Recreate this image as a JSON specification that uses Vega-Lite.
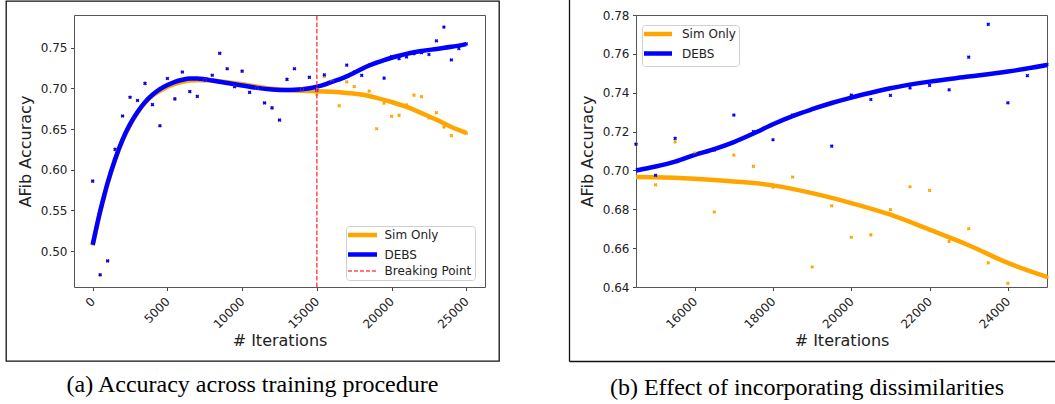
{
  "$schema": "https://vega.github.io/schema/vega-lite/v6.json",
  "padding": {"left": 5, "top": 0, "right": 0, "bottom": 0},
  "background": "white",
  "bounds": "flush",
  "spacing": 70,
  "config": {"view": {"stroke": null}, "font": "DejaVu Sans", "axis": {"grid": false}},
  "resolve": {"scale": {"color": "independent"}, "legend": {"color": "independent"}},
  "datasets": {
    "points": [
      {"iter":0,"acc":0.586,"series":"Sim Only"},{"iter":500,"acc":0.471,"series":"Sim Only"},{"iter":1000,"acc":0.488,"series":"Sim Only"},{"iter":1500,"acc":0.625,"series":"Sim Only"},{"iter":2000,"acc":0.666,"series":"Sim Only"},{"iter":2500,"acc":0.689,"series":"Sim Only"},{"iter":3000,"acc":0.685,"series":"Sim Only"},{"iter":3500,"acc":0.706,"series":"Sim Only"},{"iter":4000,"acc":0.680,"series":"Sim Only"},{"iter":4500,"acc":0.654,"series":"Sim Only"},{"iter":5000,"acc":0.712,"series":"Sim Only"},{"iter":5500,"acc":0.687,"series":"Sim Only"},{"iter":6000,"acc":0.720,"series":"Sim Only"},{"iter":6500,"acc":0.696,"series":"Sim Only"},{"iter":7000,"acc":0.690,"series":"Sim Only"},{"iter":7500,"acc":0.710,"series":"Sim Only"},{"iter":8000,"acc":0.716,"series":"Sim Only"},{"iter":8500,"acc":0.743,"series":"Sim Only"},{"iter":9000,"acc":0.724,"series":"Sim Only"},{"iter":9500,"acc":0.702,"series":"Sim Only"},{"iter":10000,"acc":0.721,"series":"Sim Only"},{"iter":10500,"acc":0.695,"series":"Sim Only"},{"iter":11000,"acc":0.700,"series":"Sim Only"},{"iter":11500,"acc":0.682,"series":"Sim Only"},{"iter":12000,"acc":0.676,"series":"Sim Only"},{"iter":12500,"acc":0.661,"series":"Sim Only"},{"iter":13000,"acc":0.711,"series":"Sim Only"},{"iter":13500,"acc":0.724,"series":"Sim Only"},{"iter":14000,"acc":0.699,"series":"Sim Only"},{"iter":14500,"acc":0.7135,"series":"Sim Only"},{"iter":15000,"acc":0.6926,"series":"Sim Only"},{"iter":15500,"acc":0.7147,"series":"Sim Only"},{"iter":16000,"acc":0.7089,"series":"Sim Only"},{"iter":16500,"acc":0.6786,"series":"Sim Only"},{"iter":17000,"acc":0.7079,"series":"Sim Only"},{"iter":17500,"acc":0.7021,"series":"Sim Only"},{"iter":18000,"acc":0.6914,"series":"Sim Only"},{"iter":18500,"acc":0.6966,"series":"Sim Only"},{"iter":19000,"acc":0.6503,"series":"Sim Only"},{"iter":19500,"acc":0.6818,"series":"Sim Only"},{"iter":20000,"acc":0.6656,"series":"Sim Only"},{"iter":20500,"acc":0.6668,"series":"Sim Only"},{"iter":21000,"acc":0.6798,"series":"Sim Only"},{"iter":21500,"acc":0.6916,"series":"Sim Only"},{"iter":22000,"acc":0.6897,"series":"Sim Only"},{"iter":22500,"acc":0.6635,"series":"Sim Only"},{"iter":23000,"acc":0.6700,"series":"Sim Only"},{"iter":23500,"acc":0.6524,"series":"Sim Only"},{"iter":24000,"acc":0.6419,"series":"Sim Only"},{"iter":24500,"acc":0.6485,"series":"Sim Only"},{"iter":25000,"acc":0.6450,"series":"Sim Only"},
      {"iter":0,"acc":0.586,"series":"DEBS"},{"iter":500,"acc":0.471,"series":"DEBS"},{"iter":1000,"acc":0.488,"series":"DEBS"},{"iter":1500,"acc":0.625,"series":"DEBS"},{"iter":2000,"acc":0.666,"series":"DEBS"},{"iter":2500,"acc":0.689,"series":"DEBS"},{"iter":3000,"acc":0.685,"series":"DEBS"},{"iter":3500,"acc":0.706,"series":"DEBS"},{"iter":4000,"acc":0.680,"series":"DEBS"},{"iter":4500,"acc":0.654,"series":"DEBS"},{"iter":5000,"acc":0.712,"series":"DEBS"},{"iter":5500,"acc":0.687,"series":"DEBS"},{"iter":6000,"acc":0.720,"series":"DEBS"},{"iter":6500,"acc":0.696,"series":"DEBS"},{"iter":7000,"acc":0.690,"series":"DEBS"},{"iter":7500,"acc":0.710,"series":"DEBS"},{"iter":8000,"acc":0.716,"series":"DEBS"},{"iter":8500,"acc":0.743,"series":"DEBS"},{"iter":9000,"acc":0.724,"series":"DEBS"},{"iter":9500,"acc":0.702,"series":"DEBS"},{"iter":10000,"acc":0.721,"series":"DEBS"},{"iter":10500,"acc":0.695,"series":"DEBS"},{"iter":11000,"acc":0.700,"series":"DEBS"},{"iter":11500,"acc":0.682,"series":"DEBS"},{"iter":12000,"acc":0.676,"series":"DEBS"},{"iter":12500,"acc":0.661,"series":"DEBS"},{"iter":13000,"acc":0.711,"series":"DEBS"},{"iter":13500,"acc":0.724,"series":"DEBS"},{"iter":14000,"acc":0.699,"series":"DEBS"},{"iter":14500,"acc":0.7135,"series":"DEBS"},{"iter":15000,"acc":0.6975,"series":"DEBS"},{"iter":15500,"acc":0.7165,"series":"DEBS"},{"iter":16000,"acc":0.708,"series":"DEBS"},{"iter":16500,"acc":0.7105,"series":"DEBS"},{"iter":17000,"acc":0.7285,"series":"DEBS"},{"iter":17500,"acc":0.720,"series":"DEBS"},{"iter":18000,"acc":0.7158,"series":"DEBS"},{"iter":18500,"acc":0.7285,"series":"DEBS"},{"iter":19000,"acc":0.7315,"series":"DEBS"},{"iter":19500,"acc":0.7125,"series":"DEBS"},{"iter":20000,"acc":0.7388,"series":"DEBS"},{"iter":20500,"acc":0.7365,"series":"DEBS"},{"iter":21000,"acc":0.7386,"series":"DEBS"},{"iter":21500,"acc":0.7425,"series":"DEBS"},{"iter":22000,"acc":0.7438,"series":"DEBS"},{"iter":22500,"acc":0.7415,"series":"DEBS"},{"iter":23000,"acc":0.7583,"series":"DEBS"},{"iter":23500,"acc":0.7752,"series":"DEBS"},{"iter":24000,"acc":0.7348,"series":"DEBS"},{"iter":24500,"acc":0.7488,"series":"DEBS"},{"iter":25000,"acc":0.7545,"series":"DEBS"}
    ],
    "curves": [
      {"iter":0,"acc":0.507,"series":"Sim Only"},{"iter":250,"acc":0.528,"series":"Sim Only"},{"iter":500,"acc":0.548,"series":"Sim Only"},{"iter":750,"acc":0.566,"series":"Sim Only"},{"iter":1000,"acc":0.583,"series":"Sim Only"},{"iter":1500,"acc":0.612,"series":"Sim Only"},{"iter":2000,"acc":0.636,"series":"Sim Only"},{"iter":2500,"acc":0.655,"series":"Sim Only"},{"iter":3000,"acc":0.670,"series":"Sim Only"},{"iter":3500,"acc":0.682,"series":"Sim Only"},{"iter":4000,"acc":0.691,"series":"Sim Only"},{"iter":4500,"acc":0.697,"series":"Sim Only"},{"iter":5000,"acc":0.702,"series":"Sim Only"},{"iter":5500,"acc":0.7055,"series":"Sim Only"},{"iter":6000,"acc":0.708,"series":"Sim Only"},{"iter":6500,"acc":0.7095,"series":"Sim Only"},{"iter":7000,"acc":0.710,"series":"Sim Only"},{"iter":7500,"acc":0.710,"series":"Sim Only"},{"iter":8000,"acc":0.7095,"series":"Sim Only"},{"iter":9000,"acc":0.7075,"series":"Sim Only"},{"iter":10000,"acc":0.705,"series":"Sim Only"},{"iter":11000,"acc":0.702,"series":"Sim Only"},{"iter":12000,"acc":0.6995,"series":"Sim Only"},{"iter":13000,"acc":0.698,"series":"Sim Only"},{"iter":14000,"acc":0.697,"series":"Sim Only"},{"iter":14500,"acc":0.6966,"series":"Sim Only"},{"iter":15000,"acc":0.6965,"series":"Sim Only"},{"iter":16000,"acc":0.6957,"series":"Sim Only"},{"iter":17000,"acc":0.6943,"series":"Sim Only"},{"iter":18000,"acc":0.6923,"series":"Sim Only"},{"iter":19000,"acc":0.6883,"series":"Sim Only"},{"iter":20000,"acc":0.6832,"series":"Sim Only"},{"iter":21000,"acc":0.6772,"series":"Sim Only"},{"iter":22000,"acc":0.6695,"series":"Sim Only"},{"iter":23000,"acc":0.6615,"series":"Sim Only"},{"iter":24000,"acc":0.6524,"series":"Sim Only"},{"iter":25000,"acc":0.6452,"series":"Sim Only"},
      {"iter":0,"acc":0.508,"series":"DEBS"},{"iter":250,"acc":0.529,"series":"DEBS"},{"iter":500,"acc":0.549,"series":"DEBS"},{"iter":750,"acc":0.567,"series":"DEBS"},{"iter":1000,"acc":0.584,"series":"DEBS"},{"iter":1500,"acc":0.613,"series":"DEBS"},{"iter":2000,"acc":0.637,"series":"DEBS"},{"iter":2500,"acc":0.656,"series":"DEBS"},{"iter":3000,"acc":0.671,"series":"DEBS"},{"iter":3500,"acc":0.683,"series":"DEBS"},{"iter":4000,"acc":0.692,"series":"DEBS"},{"iter":4500,"acc":0.699,"series":"DEBS"},{"iter":5000,"acc":0.704,"series":"DEBS"},{"iter":5500,"acc":0.708,"series":"DEBS"},{"iter":6000,"acc":0.7105,"series":"DEBS"},{"iter":6500,"acc":0.712,"series":"DEBS"},{"iter":7000,"acc":0.712,"series":"DEBS"},{"iter":7500,"acc":0.711,"series":"DEBS"},{"iter":8000,"acc":0.7095,"series":"DEBS"},{"iter":9000,"acc":0.7065,"series":"DEBS"},{"iter":10000,"acc":0.7035,"series":"DEBS"},{"iter":11000,"acc":0.7005,"series":"DEBS"},{"iter":12000,"acc":0.6985,"series":"DEBS"},{"iter":13000,"acc":0.6978,"series":"DEBS"},{"iter":14000,"acc":0.6988,"series":"DEBS"},{"iter":14500,"acc":0.700,"series":"DEBS"},{"iter":15000,"acc":0.702,"series":"DEBS"},{"iter":15500,"acc":0.7045,"series":"DEBS"},{"iter":16000,"acc":0.708,"series":"DEBS"},{"iter":16500,"acc":0.711,"series":"DEBS"},{"iter":17000,"acc":0.7146,"series":"DEBS"},{"iter":17500,"acc":0.719,"series":"DEBS"},{"iter":18000,"acc":0.7238,"series":"DEBS"},{"iter":18500,"acc":0.728,"series":"DEBS"},{"iter":19000,"acc":0.7315,"series":"DEBS"},{"iter":19500,"acc":0.7347,"series":"DEBS"},{"iter":20000,"acc":0.7375,"series":"DEBS"},{"iter":20500,"acc":0.740,"series":"DEBS"},{"iter":21000,"acc":0.7423,"series":"DEBS"},{"iter":22000,"acc":0.7457,"series":"DEBS"},{"iter":23000,"acc":0.7483,"series":"DEBS"},{"iter":24000,"acc":0.7509,"series":"DEBS"},{"iter":25000,"acc":0.7543,"series":"DEBS"}
    ]
  },
  "hconcat": [
    {
      "width": 493,
      "height": 360,
      "view": {"stroke": "#111", "strokeWidth": 1.3},
      "title": {"text": "(a) Accuracy across training procedure", "orient": "bottom", "anchor": "middle", "offset": 12, "font": "Liberation Serif", "fontSize": 24, "fontWeight": "normal", "color": "#000", "baseline": "top"},
      "resolve": {"scale": {"x": "independent", "y": "independent"}, "axis": {"x": "independent", "y": "independent"}},
      "layer": [
        {
          "data": {"name": "curves"},
          "mark": {"type": "line", "strokeWidth": 4.5, "interpolate": "monotone", "strokeCap": "butt"},
          "encoding": {
            "x": {"field": "iter", "type": "quantitative", "scale": {"domain": [-1250, 26250], "range": [68, 479], "nice": false, "zero": false},
                  "axis": {"orient": "top", "offset": -14, "labels": false, "ticks": false, "title": null, "grid": false, "domainColor": "#555", "domainWidth": 1}},
            "y": {"field": "acc", "type": "quantitative", "scale": {"domain": [0.456, 0.79], "range": [286, 14], "nice": false, "zero": false},
                  "axis": {"orient": "right", "offset": -14, "labels": false, "ticks": false, "title": null, "grid": false, "domainColor": "#555", "domainWidth": 1}},
            "color": {"field": "series", "type": "nominal",
                      "scale": {"domain": ["Sim Only", "DEBS", "Breaking Point"], "range": ["#ffa500", "#0000ff", "#ff4d4d"]},
                      "legend": {"orient": "none", "legendX": 340, "legendY": 225, "title": null,
                                 "symbolType": "M-1.5,0H1.5", "symbolSize": 374, "symbolOffset": 7.5, "labelOffset": 16,
                                 "labelFont": "DejaVu Sans", "labelFontSize": 12, "labelColor": "#222",
                                 "padding": 3, "rowPadding": 1.5, "strokeColor": "#d0d0d0", "fillColor": "rgba(255,255,255,0.85)", "cornerRadius": 3,
                                 "encode": {"symbols": {"update": {
                                   "stroke": {"signal": "datum.value === 'DEBS' ? '#0000ff' : datum.value === 'Sim Only' ? '#ffa500' : '#ff4d4d'"},
                                   "fill": {"value": "transparent"},
                                   "strokeWidth": {"signal": "datum.value === 'Breaking Point' ? 1.5 : 4.5"},
                                   "strokeDash": {"signal": "datum.value === 'Breaking Point' ? [4, 2] : [1, 0]"}
                                 }}}}}
          }
        },
        {
          "data": {"name": "points"},
          "mark": {"type": "point", "shape": "cross", "angle": 45, "filled": true, "size": 14, "opacity": 1},
          "encoding": {
            "x": {"field": "iter", "type": "quantitative", "scale": {"domain": [-1250, 26250], "range": [68, 479], "nice": false, "zero": false},
                  "axis": {"orient": "bottom", "offset": -74, "values": [0, 5000, 10000, 15000, 20000, 25000], "format": "d",
                           "labelAngle": -45, "labelAlign": "right", "labelBaseline": "middle", "labelPadding": 8.5, "labelFlush": false, "labelOverlap": false,
                           "labelFont": "DejaVu Sans", "labelFontSize": 12, "labelColor": "#222",
                           "encode": {"labels": {"update": {"dx": {"signal": "2.7 * length(datum.label)"}}}},
                           "tickSize": 3.5, "tickWidth": 0.9, "tickColor": "#333", "domainColor": "#555", "domainWidth": 1, "grid": false,
                           "title": "# Iterations", "titleFont": "DejaVu Sans", "titleFontSize": 16, "titleFontWeight": "normal", "titleColor": "#222", "titlePadding": 2}},
            "y": {"field": "acc", "type": "quantitative", "scale": {"domain": [0.456, 0.79], "range": [286, 14], "nice": false, "zero": false},
                  "axis": {"orient": "left", "offset": -68, "values": [0.5, 0.55, 0.6, 0.65, 0.7, 0.75], "format": ".2f",
                           "labelPadding": 3.5, "labelFlush": false, "labelOverlap": false,
                           "labelFont": "DejaVu Sans", "labelFontSize": 12, "labelColor": "#222",
                           "tickSize": 3.5, "tickWidth": 0.9, "tickColor": "#333", "domainColor": "#555", "domainWidth": 1, "grid": false,
                           "title": "AFib Accuracy", "titleFont": "DejaVu Sans", "titleFontSize": 16, "titleFontWeight": "normal", "titleColor": "#222", "titlePadding": 7}},
            "color": {"field": "series", "type": "nominal",
                      "scale": {"domain": ["Sim Only", "DEBS", "Breaking Point"], "range": ["#ffa500", "#0000ff", "#ff4d4d"]}}
          }
        },
        {
          "data": {"values": [{"iter": 15000, "series": "Breaking Point"}]},
          "mark": {"type": "rule", "strokeDash": [4.5, 2], "strokeWidth": 1.5},
          "encoding": {
            "x": {"field": "iter", "type": "quantitative", "scale": {"domain": [-1250, 26250], "range": [68, 479], "nice": false, "zero": false}, "axis": null},
            "y": {"datum": 0.456, "type": "quantitative", "scale": {"domain": [0.456, 0.79], "range": [286, 14], "nice": false, "zero": false}, "axis": null},
            "y2": {"datum": 0.79},
            "color": {"field": "series", "type": "nominal",
                      "scale": {"domain": ["Sim Only", "DEBS", "Breaking Point"], "range": ["#ffa500", "#0000ff", "#ff4d4d"]}}
          }
        }
      ]
    },
    {
      "width": 486,
      "height": 360,
      "view": {"stroke": null},
      "title": {"text": "(b) Effect of incorporating dissimilarities", "orient": "bottom", "anchor": "middle", "offset": 12, "dx": -5, "font": "Liberation Serif", "fontSize": 24, "fontWeight": "normal", "color": "#000", "baseline": "top"},
      "resolve": {"scale": {"x": "independent", "y": "independent"}, "axis": {"x": "independent", "y": "independent"}},
      "layer": [
        {
          "data": {"name": "curves"},
          "transform": [{"filter": "datum.iter >= 14500"}],
          "mark": {"type": "line", "strokeWidth": 4.5, "interpolate": "monotone", "strokeCap": "butt"},
          "encoding": {
            "x": {"field": "iter", "type": "quantitative", "scale": {"domain": [14500, 25000], "range": [67, 478], "nice": false, "zero": false},
                  "axis": {"orient": "top", "offset": -14, "labels": false, "ticks": false, "title": null, "grid": false, "domainColor": "#555", "domainWidth": 1}},
            "y": {"field": "acc", "type": "quantitative", "scale": {"domain": [0.64, 0.78], "range": [286, 14], "nice": false, "zero": false},
                  "axis": {"orient": "right", "offset": -8, "labels": false, "ticks": false, "title": null, "grid": false, "domainColor": "#555", "domainWidth": 1}},
            "color": {"field": "series", "type": "nominal",
                      "scale": {"domain": ["Sim Only", "DEBS"], "range": ["#ffa500", "#0000ff"]},
                      "legend": {"orient": "none", "legendX": 73, "legendY": 24, "title": null,
                                 "symbolType": "M-1.5,0H1.5", "symbolSize": 349, "symbolOffset": 7, "labelOffset": 18,
                                 "labelFont": "DejaVu Sans", "labelFontSize": 12, "labelColor": "#222",
                                 "padding": 3, "rowPadding": 1.5, "strokeColor": "#d0d0d0", "fillColor": "rgba(255,255,255,0.85)", "cornerRadius": 3,
                                 "encode": {"symbols": {"update": {
                                   "stroke": {"signal": "datum.value === 'DEBS' ? '#0000ff' : '#ffa500'"},
                                   "fill": {"value": "transparent"},
                                   "strokeWidth": {"signal": "datum.value === 'Breaking Point' ? 1.5 : 4.5"}
                                 }}}}}
          }
        },
        {
          "data": {"name": "points"},
          "transform": [{"filter": "datum.iter >= 14500"}],
          "mark": {"type": "point", "shape": "cross", "angle": 45, "filled": true, "size": 14, "opacity": 1},
          "encoding": {
            "x": {"field": "iter", "type": "quantitative", "scale": {"domain": [14500, 25000], "range": [67, 478], "nice": false, "zero": false},
                  "axis": {"orient": "bottom", "offset": -74, "values": [16000, 18000, 20000, 22000, 24000], "format": "d",
                           "labelAngle": -45, "labelAlign": "right", "labelBaseline": "middle", "labelPadding": 8.5, "labelFlush": false, "labelOverlap": false,
                           "labelFont": "DejaVu Sans", "labelFontSize": 12, "labelColor": "#222",
                           "encode": {"labels": {"update": {"dx": {"signal": "2.7 * length(datum.label)"}}}},
                           "tickSize": 3.5, "tickWidth": 0.9, "tickColor": "#333", "domainColor": "#555", "domainWidth": 1, "grid": false,
                           "title": "# Iterations", "titleFont": "DejaVu Sans", "titleFontSize": 16, "titleFontWeight": "normal", "titleColor": "#222", "titlePadding": 2}},
            "y": {"field": "acc", "type": "quantitative", "scale": {"domain": [0.64, 0.78], "range": [286, 14], "nice": false, "zero": false},
                  "axis": {"orient": "left", "offset": -67, "values": [0.64, 0.66, 0.68, 0.7, 0.72, 0.74, 0.76, 0.78], "format": ".2f",
                           "labelPadding": 3.5, "labelFlush": false, "labelOverlap": false,
                           "labelFont": "DejaVu Sans", "labelFontSize": 12, "labelColor": "#222",
                           "tickSize": 3.5, "tickWidth": 0.9, "tickColor": "#333", "domainColor": "#555", "domainWidth": 1, "grid": false,
                           "title": "AFib Accuracy", "titleFont": "DejaVu Sans", "titleFontSize": 16, "titleFontWeight": "normal", "titleColor": "#222", "titlePadding": 7}},
            "color": {"field": "series", "type": "nominal",
                      "scale": {"domain": ["Sim Only", "DEBS"], "range": ["#ffa500", "#0000ff"]}}
          }
        },
        {
          "data": {"name": "points"},
          "transform": [{"filter": "datum.iter >= 14500"}],
          "mark": {"type": "point", "opacity": 0},
          "encoding": {
            "x": {"field": "iter", "type": "quantitative", "scale": {"domain": [14500, 25000], "range": [0, 486], "nice": false, "zero": false},
                  "axis": {"orient": "bottom", "offset": 0, "labels": false, "ticks": false, "title": null, "grid": false, "domainColor": "#111", "domainWidth": 1.3}},
            "y": {"field": "acc", "type": "quantitative", "scale": {"domain": [0.64, 0.78], "range": [360, -3], "nice": false, "zero": false},
                  "axis": {"orient": "left", "offset": 0, "labels": false, "ticks": false, "title": null, "grid": false, "domainColor": "#111", "domainWidth": 1.3}}
          }
        }
      ]
    }
  ]
}
